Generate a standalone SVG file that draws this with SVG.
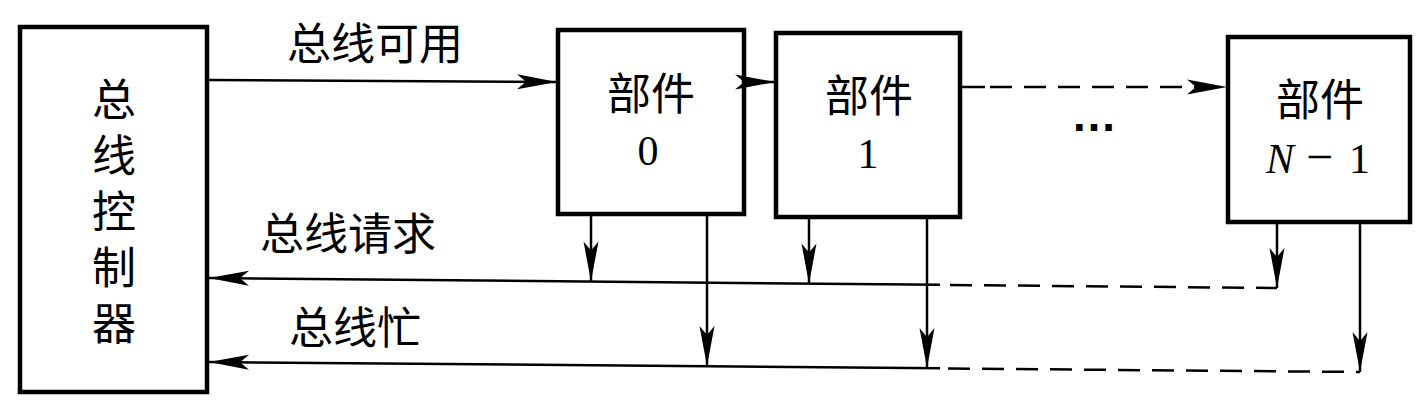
<svg xmlns="http://www.w3.org/2000/svg" width="1427" height="409" viewBox="0 0 1427 409">
<style>
.box{fill:#fff;stroke:#000;stroke-width:4.5}
.cjk{font-family:"Noto Sans CJK SC","Noto Sans",sans-serif;font-size:44px;fill:#000;text-anchor:middle}
.num{font-family:"Liberation Serif",serif;font-size:42px;fill:#000;text-anchor:middle}
.ln{fill:none;stroke:#000;stroke-width:2.5}
.ds{stroke-dasharray:22 12}
</style>
<defs>
<marker id="ah" markerUnits="userSpaceOnUse" markerWidth="42" markerHeight="18" viewBox="-42 -9 42 18" refX="0" refY="0" orient="auto">
<path d="M0,0 L-40,-7.5 L-31,0 L-40,7.5 Z" fill="#000"/>
</marker>
</defs>
<rect x="0" y="0" width="1427" height="409" fill="#fff"/>
<g id="controller">
<rect class="box" x="20" y="27" width="187" height="365"/>
<text class="cjk" x="114" y="77" writing-mode="tb" style="text-anchor:start;letter-spacing:12px">总线控制器</text>
</g>
<g id="unit0">
<rect class="box" x="558" y="30" width="186" height="184"/>
<text class="cjk" x="651" y="110">部件</text>
<text class="num" x="648" y="165">0</text>
</g>
<g id="unit1">
<rect class="box" x="776" y="33" width="184" height="184"/>
<text class="cjk" x="869" y="112">部件</text>
<text class="num" x="868" y="168">1</text>
</g>
<g id="unitN1">
<rect class="box" x="1228" y="37" width="182" height="185"/>
<text class="cjk" x="1320" y="116">部件</text>
<text class="num" x="1266" y="173" style="text-anchor:start"><tspan font-style="italic">N</tspan><tspan x="1306" font-size="48">−</tspan><tspan x="1349">1</tspan></text>
</g>
<g id="labels">
<text class="cjk" x="375" y="60">总线可用</text>
<text class="cjk" x="348" y="250">总线请求</text>
<text class="cjk" x="355" y="344">总线忙</text>
<text x="1094" y="131" style="font-family:'Liberation Sans',sans-serif;font-size:46px;font-weight:bold;text-anchor:middle">…</text>
</g>
<g id="connectors">
<path class="ln" d="M209,80 L557,82" marker-end="url(#ah)"/>
<path class="ln" d="M746,82 L775,82" marker-end="url(#ah)"/>
<path class="ln" d="M962,87 L985,87"/>
<path class="ln ds" d="M990,87 L1227,87" marker-end="url(#ah)"/>
<path class="ln" d="M591,216 L591,281.5" marker-end="url(#ah)"/>
<path class="ln" d="M707,216 L707,366" marker-end="url(#ah)"/>
<path class="ln" d="M809,219 L809,283.5" marker-end="url(#ah)"/>
<path class="ln" d="M927,219 L927,368" marker-end="url(#ah)"/>
<path class="ln" d="M1277,224 L1277,288" marker-end="url(#ah)"/>
<path class="ln" d="M1360,224 L1360,372" marker-end="url(#ah)"/>
<path class="ln" d="M940,284.8 L209,278" marker-end="url(#ah)"/>
<path class="ln ds" d="M950,285 L1277,288"/>
<path class="ln" d="M940,368.3 L209,362" marker-end="url(#ah)"/>
<path class="ln ds" d="M948,368.5 L1360,372"/>
</g>
</svg>
